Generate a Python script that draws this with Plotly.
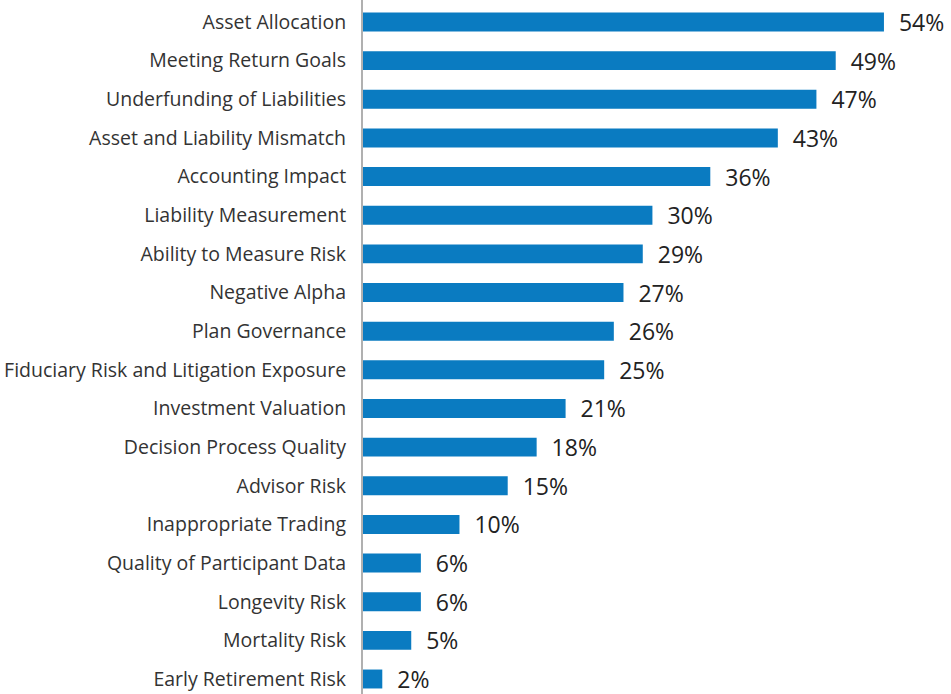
import plotly.graph_objects as go

categories = [
    "Asset Allocation", "Meeting Return Goals", "Underfunding of Liabilities",
    "Asset and Liability Mismatch", "Accounting Impact", "Liability Measurement",
    "Ability to Measure Risk", "Negative Alpha", "Plan Governance",
    "Fiduciary Risk and Litigation Exposure", "Investment Valuation",
    "Decision Process Quality", "Advisor Risk", "Inappropriate Trading",
    "Quality of Participant Data", "Longevity Risk", "Mortality Risk",
    "Early Retirement Risk",
]
values = [54, 49, 47, 43, 36, 30, 29, 27, 26, 25, 21, 18, 15, 10, 6, 6, 5, 2]

fig = go.Figure(go.Bar(
    x=values, y=categories, orientation="h",
    marker=dict(color="#0a7bc1", line=dict(width=0)),
    width=0.49,
    texttemplate="\u00a0\u00a0%{x}%",
    textposition="outside",
    constraintext="none",
    textfont=dict(family="Open Sans", size=23, color="#222222"),
    cliponaxis=False,
    hoverinfo="skip",
))

fig.update_layout(
    width=951, height=694,
    margin=dict(l=363, r=0, t=0, b=0, autoexpand=False),
    paper_bgcolor="white", plot_bgcolor="white",
    showlegend=False,
    hovermode=False,
    font=dict(family="Open Sans", color="#333333"),
    xaxis=dict(range=[0, 60.95], visible=False, fixedrange=True, automargin=False),
    yaxis=dict(
        range=[17.388, -0.569], type="category", automargin=False, fixedrange=True,
        showline=True, linecolor="#b0b0b0", linewidth=2,
        showgrid=False, zeroline=False,
        ticks="outside", ticklen=11, tickcolor="rgba(0,0,0,0)",
        tickfont=dict(family="Open Sans", size=19.5, color="#333333"),
    ),
)

fig.write_html(
    "out.html",
    config={"displayModeBar": False, "staticPlot": True},
    post_script="document.body.style.margin='0';document.body.style.overflow='hidden';",
)
